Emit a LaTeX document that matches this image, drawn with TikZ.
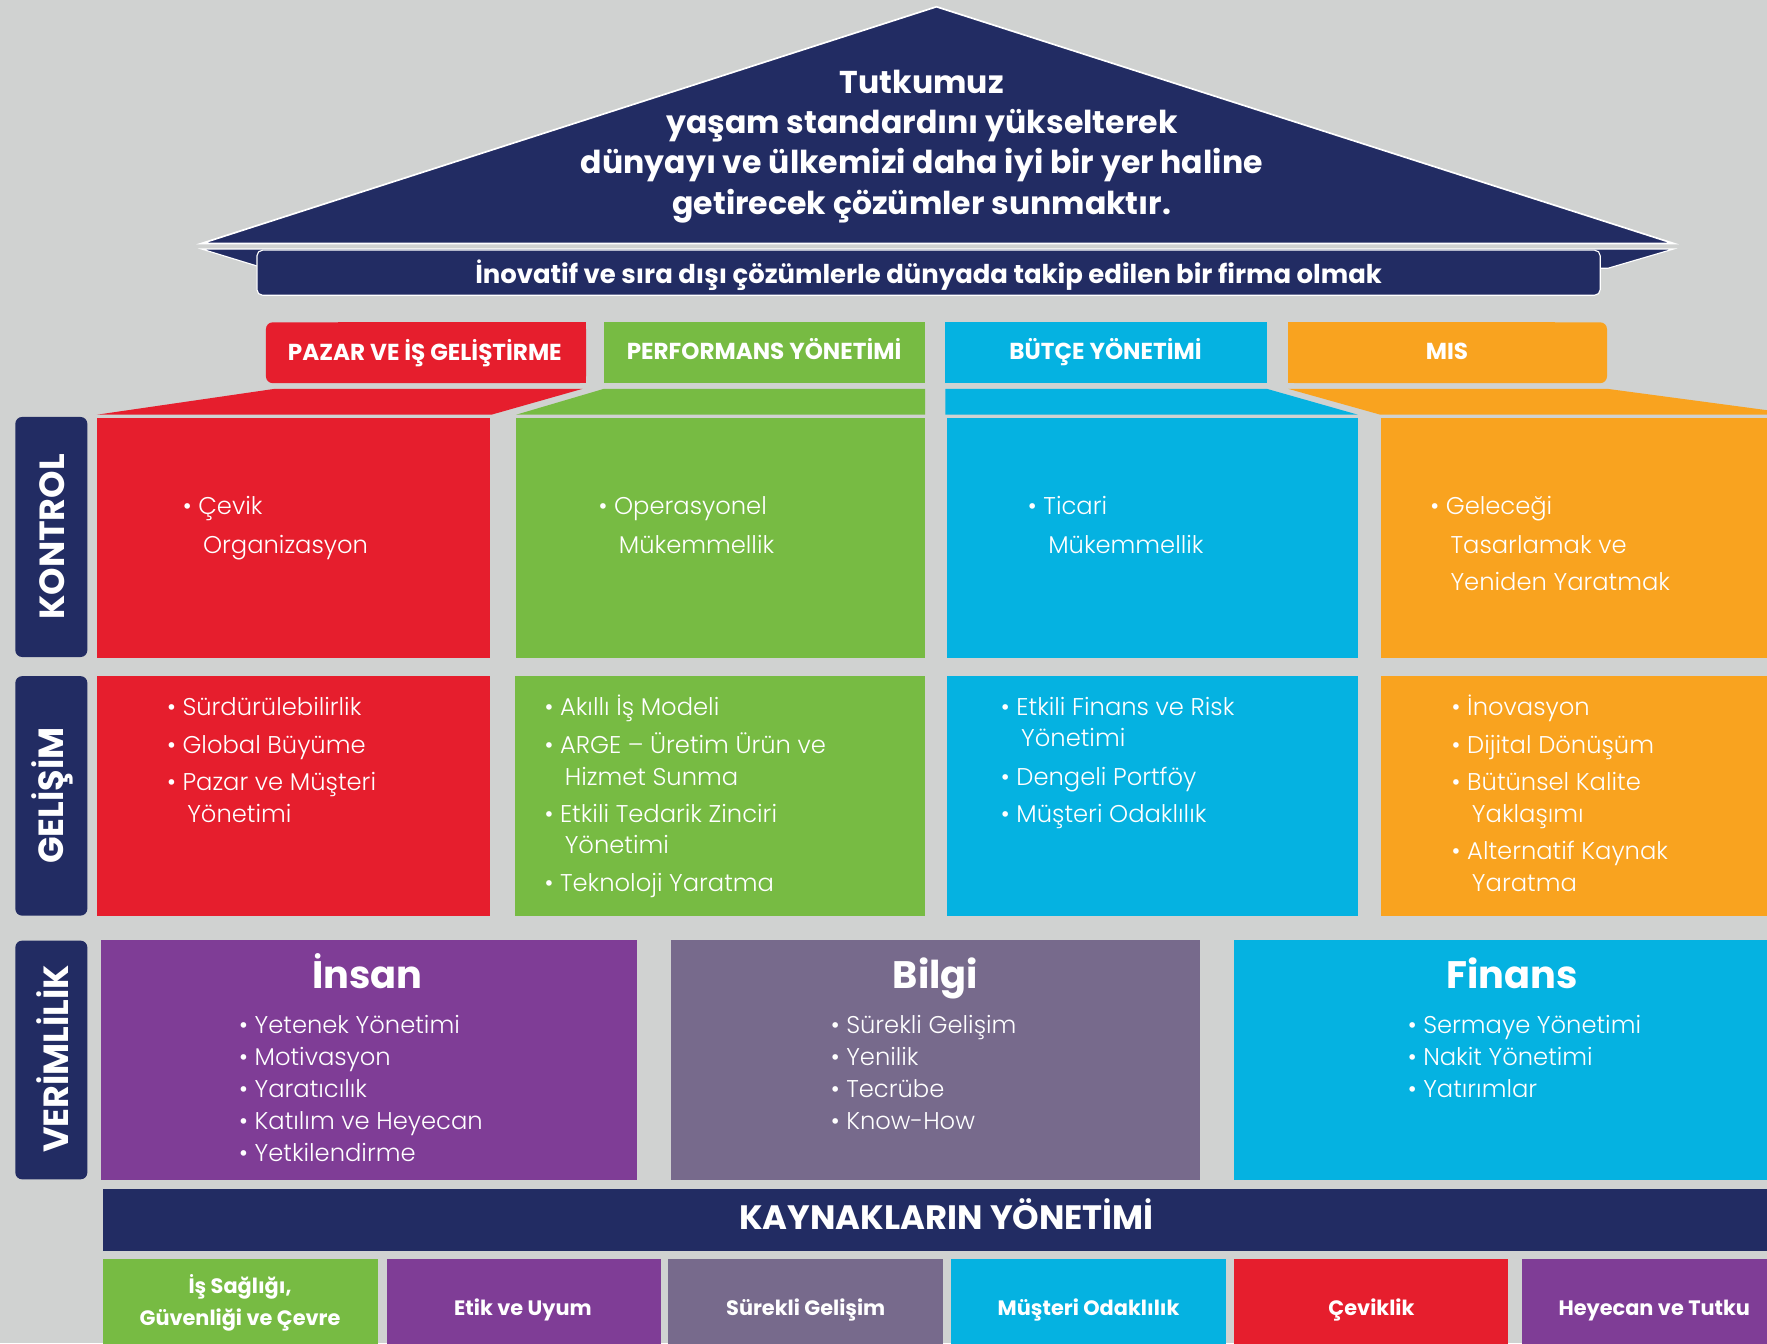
\documentclass[tikz,border=0pt]{standalone}
\usepackage{fontspec}
\setmainfont{Poppins}
\newfontfamily\lightfont{Poppins Light}
\definecolor{bg}{RGB}{208,210,209}
\definecolor{navy}{RGB}{34,44,99}
\definecolor{cred}{RGB}{230,30,45}
\definecolor{cgreen}{RGB}{119,187,67}
\definecolor{cblue}{RGB}{5,178,225}
\definecolor{corange}{RGB}{249,163,31}
\definecolor{cpurple}{RGB}{127,61,150}
\definecolor{cgray}{RGB}{119,106,140}
\tikzset{
  bodytxt/.style={text=white, font=\lightfont\fontsize{21.5}{24}\selectfont, anchor=mid west, inner sep=0pt, yshift=-5pt},
  rooftxt/.style={text=white, font=\bfseries\fontsize{28}{30}\selectfont, anchor=mid, inner sep=0pt, yshift=-7.5pt},
  bantxt/.style={text=white, font=\bfseries\fontsize{23}{25}\selectfont, anchor=mid, inner sep=0pt, yshift=-5.5pt},
  tabtxt/.style={text=white, font=\bfseries\fontsize{20.5}{22}\selectfont, anchor=mid, inner sep=0pt, yshift=-5pt},
  sidetxt/.style={text=white, font=\bfseries\fontsize{31}{33}\selectfont, anchor=center, inner sep=0pt, rotate=90},
  titletxt/.style={text=white, font=\bfseries\fontsize{34}{36}\selectfont, anchor=mid, inner sep=0pt, yshift=-9.5pt},
  kaytxt/.style={text=white, font=\bfseries\fontsize{30}{32}\selectfont, anchor=mid, inner sep=0pt, yshift=-7pt},
  bottxt/.style={text=white, font=\bfseries\fontsize{18.5}{20}\selectfont, anchor=mid, inner sep=0pt, yshift=-4.5pt},
  sidebox/.style={fill=navy, rounded corners=6},
}
\begin{document}
\begin{tikzpicture}[x=1pt,y=-1pt]
\useasboundingbox (0,0) rectangle (1568,1192);
\clip (0,0) rectangle (1568,1192);
\fill[bg] (0,0) rectangle (1568,1192);

% roof
\filldraw[fill=navy, draw=white, line width=1.5] (831,6) -- (1485,216) -- (179,216) -- cycle;
\filldraw[fill=navy, draw=white, line width=1] (179,221) -- (1485,221) -- (1427,238) -- (228,236) -- cycle;
\node[draw=white, fill=navy, rounded corners=5, minimum width=1192, minimum height=40, line width=1, inner sep=0pt] (banner) at (824,242) {};
\node[bantxt] (bantext) at (824,243) {İnovatif ve sıra dışı çözümlerle dünyada takip edilen bir firma olmak};

\node[rooftxt] (roof1) at (818,73) {Tutkumuz};
\node[rooftxt] (roof2) at (818,108) {yaşam standardını yükselterek};
\node[rooftxt] (roof3) at (818,144) {dünyayı ve ülkemizi daha iyi bir yer haline};
\node[rooftxt] (roof4) at (818,180) {getirecek çözümler sunmaktır.};

% tabs
\fill[cred, rounded corners=6] (236,286) rectangle (520,340);
\fill[cred] (300,286) rectangle (520,340);
\fill[cgreen] (536,286) rectangle (821,340);
\fill[cblue] (839,286) rectangle (1124,340);
\fill[corange, rounded corners=6] (1143,286) rectangle (1426,340);
\fill[corange] (1143,286) rectangle (1380,340);
\node[tabtxt] (tab1) at (377,312) {PAZAR VE İŞ GELİŞTİRME};
\node[tabtxt] (tab2) at (678,311) {PERFORMANS YÖNETİMİ};
\node[tabtxt] (tab3) at (981,311) {BÜTÇE YÖNETİMİ};
\node[tabtxt] (tab4) at (1284,311) {MIS};

% trapezoids
\fill[cred] (244,345) -- (517,345) -- (436,368) -- (86,368) -- cycle;
\fill[cgreen] (536,345) -- (821,345) -- (821,368) -- (458,368) -- cycle;
\fill[cblue] (839,345) -- (1124,345) -- (1205,368) -- (839,368) -- cycle;
\fill[corange] (1143,345) -- (1426,345) -- (1598,368) -- (1225,368) -- cycle;

% row 1
\fill[cred] (86,370.5) rectangle (435,583.5);
\fill[cgreen] (458,370.5) rectangle (821,583.5);
\fill[cblue] (840,370.5) rectangle (1205,583.5);
\fill[corange] (1225.5,370.5) rectangle (1580,583.5);
% row 2
\fill[cred] (86,600) rectangle (435,812.5);
\fill[cgreen] (456.7,600) rectangle (821,812.5);
\fill[cblue] (840,600) rectangle (1205,812.5);
\fill[corange] (1225.5,600) rectangle (1580,812.5);
% row 3
\fill[cpurple] (90,834) rectangle (565.5,1047);
\fill[cgray] (595,834) rectangle (1065,1047);
\fill[cblue] (1095.4,834) rectangle (1580,1047);
% kaynak band
\fill[navy] (91,1055) rectangle (1580,1110);
% bottom row
\fill[cgreen] (91,1117) rectangle (335.5,1200);
\fill[cpurple] (343,1117) rectangle (586.6,1200);
\fill[cgray] (593,1117) rectangle (837,1200);
\fill[cblue] (844,1117) rectangle (1088,1200);
\fill[cred] (1095,1117) rectangle (1338,1200);
\fill[cpurple] (1350.5,1117) rectangle (1580,1200);

% side labels
\fill[sidebox] (13.6,370) rectangle (77.5,583);
\fill[sidebox] (13.6,600) rectangle (77.5,812.5);
\fill[sidebox] (13.6,834.7) rectangle (77.5,1046.5);
\node[sidetxt] (side1) at (46,476.5) {KONTROL};
\node[sidetxt] (side2) at (46,706) {GELİŞİM};
\node[sidetxt] (side3) at (47,939.5) {VERİMLİLİK};

% row 1 text
\node[bodytxt] (a1) at (162,449) {• Çevik};
\node[bodytxt] (a2) at (180,483) {Organizasyon};
\node[bodytxt] (b1) at (531,449) {• Operasyonel};
\node[bodytxt] (b2) at (549,483) {Mükemmellik};
\node[bodytxt] (c1) at (912,449) {• Ticari};
\node[bodytxt] (c2) at (930,483) {Mükemmellik};
\node[bodytxt] (d1) at (1269,449) {• Geleceği};
\node[bodytxt] (d2) at (1287,483) {Tasarlamak ve};
\node[bodytxt] (d3) at (1287,516) {Yeniden Yaratmak};

% row 2 text
\node[bodytxt] (e1) at (148,627) {• Sürdürülebilirlik};
\node[bodytxt] (e2) at (148,661) {• Global Büyüme};
\node[bodytxt] (e3) at (148,694) {• Pazar ve Müşteri};
\node[bodytxt] (e4) at (166,722) {Yönetimi};
\node[bodytxt] (f1) at (483,627) {• Akıllı İş Modeli};
\node[bodytxt] (f2) at (483,661) {• ARGE – Üretim Ürün ve};
\node[bodytxt] (f3) at (501,689) {Hizmet Sunma};
\node[bodytxt] (f4) at (483,722) {• Etkili Tedarik Zinciri};
\node[bodytxt] (f5) at (501,750) {Yönetimi};
\node[bodytxt] (f6) at (483,783) {• Teknoloji Yaratma};
\node[bodytxt] (g1) at (888,627) {• Etkili Finans ve Risk};
\node[bodytxt] (g2) at (906,655) {Yönetimi};
\node[bodytxt] (g3) at (888,689) {• Dengeli Portföy};
\node[bodytxt] (g4) at (888,722) {• Müşteri Odaklılık};
\node[bodytxt] (h1) at (1288,627) {• İnovasyon};
\node[bodytxt] (h2) at (1288,661) {• Dijital Dönüşüm};
\node[bodytxt] (h3) at (1288,694) {• Bütünsel Kalite};
\node[bodytxt] (h4) at (1306,722) {Yaklaşımı};
\node[bodytxt] (h5) at (1288,755) {• Alternatif Kaynak};
\node[bodytxt] (h6) at (1306,783) {Yaratma};

% row 3 text
\node[titletxt] (t1) at (326,865) {İnsan};
\node[titletxt] (t2) at (830,865) {Bilgi};
\node[titletxt] (t3) at (1342,865) {Finans};
\foreach \s [count=\i] in {Yetenek Yönetimi, Motivasyon, Yaratıcılık, Katılım ve Heyecan, Yetkilendirme}
  \node[bodytxt] (p\i) at (212,{909+28.5*(\i-1)}) {• \s};
\foreach \s [count=\i] in {Sürekli Gelişim, Yenilik, Tecrübe, Know-How}
  \node[bodytxt] (q\i) at (737,{909+28.5*(\i-1)}) {• \s};
\foreach \s [count=\i] in {Sermaye Yönetimi, Nakit Yönetimi, Yatırımlar}
  \node[bodytxt] (s\i) at (1249,{909+28.5*(\i-1)}) {• \s};

% kaynak
\node[kaytxt] (kay) at (840,1081) {KAYNAKLARIN YÖNETİMİ};
% bottom
\node[bottxt] (v1a) at (213,1141) {İş Sağlığı,};
\node[bottxt] (v1b) at (213,1169) {Güvenliği ve Çevre};
\node[bottxt] (v2) at (464,1160) {Etik ve Uyum};
\node[bottxt] (v3) at (715,1160) {Sürekli Gelişim};
\node[bottxt] (v4) at (966,1160) {Müşteri Odaklılık};
\node[bottxt] (v5) at (1217,1160) {Çeviklik};
\node[bottxt] (v6) at (1468,1160) {Heyecan ve Tutku};
\end{tikzpicture}
\end{document}
